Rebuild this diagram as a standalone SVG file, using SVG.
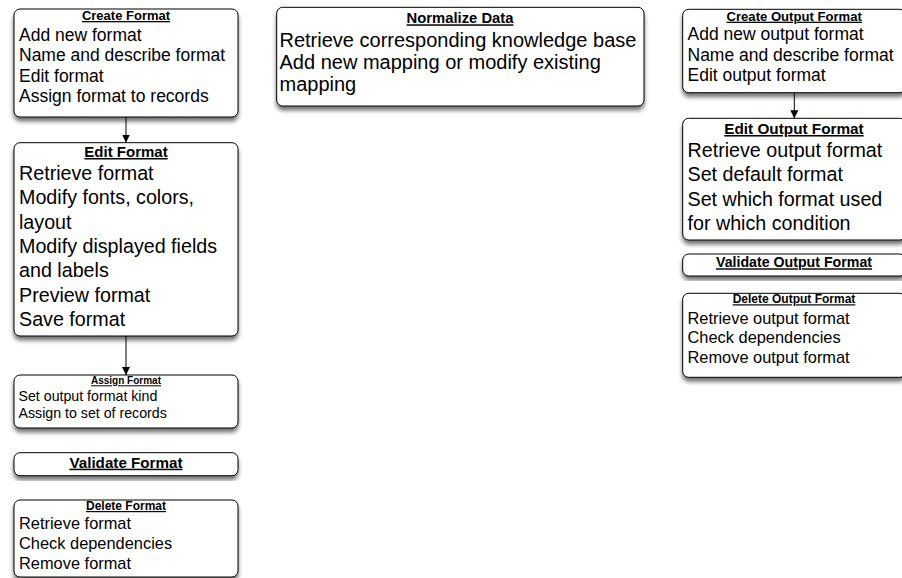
<svg xmlns="http://www.w3.org/2000/svg" width="902" height="578" viewBox="0 0 902 578">
<style>
.box{fill:#fff;stroke:#000;stroke-width:1;filter:url(#sh)}
text{font-family:"Liberation Sans",Arial,Helvetica,sans-serif;fill:#000}
.t{font-weight:bold;text-anchor:middle;text-decoration:underline}
.c{stroke:#000;stroke-width:1;fill:none;marker-end:url(#ah)}
</style>
<defs>
<filter id="sh" x="-10%" y="-10%" width="120%" height="130%">
<feGaussianBlur in="SourceAlpha" stdDeviation="2"/>
<feOffset dx="0" dy="4" result="b"/>
<feComponentTransfer><feFuncA type="linear" slope="0.55"/></feComponentTransfer>
<feMerge><feMergeNode/><feMergeNode in="SourceGraphic"/></feMerge>
</filter>
<marker id="ah" viewBox="0 0 10 10" refX="10" refY="5" markerWidth="8" markerHeight="8" markerUnits="userSpaceOnUse" orient="auto">
<path d="M0,0 L10,5 L0,10 z" fill="#000"/>
</marker>
</defs>
<rect width="902" height="578" fill="#fff"/>
<g id="connectors">
<line class="c" x1="126" y1="117" x2="126" y2="142.5"/>
<line class="c" x1="126" y1="336" x2="126" y2="375"/>
<line class="c" x1="794.3" y1="92.7" x2="794.3" y2="118.3"/>
</g>
<g id="create-format">
<rect class="box" x="14" y="9" width="224" height="108" rx="6"/>
<text class="t" x="126" y="20" font-size="13">Create Format</text>
<text font-size="17.5"><tspan x="19" y="40.5">Add new format</tspan><tspan x="19" y="61">Name and describe format</tspan><tspan x="19" y="81.5">Edit format</tspan><tspan x="19" y="102">Assign format to records</tspan></text>
</g>
<g id="edit-format">
<rect class="box" x="14" y="142.7" width="224" height="193.3" rx="6"/>
<text class="t" x="126" y="157" font-size="15">Edit Format</text>
<text font-size="19.7"><tspan x="19" y="180">Retrieve format</tspan><tspan x="19" y="204.3">Modify fonts, colors,</tspan><tspan x="19" y="228.6">layout</tspan><tspan x="19" y="252.9">Modify displayed fields</tspan><tspan x="19" y="277.2">and labels</tspan><tspan x="19" y="301.5">Preview format</tspan><tspan x="19" y="325.8">Save format</tspan></text>
</g>
<g id="assign-format">
<rect class="box" x="14" y="375" width="224" height="53" rx="6"/>
<text class="t" x="126" y="384.3" font-size="10">Assign Format</text>
<text font-size="14.2"><tspan x="18.5" y="401">Set output format kind</tspan><tspan x="18.5" y="417.7">Assign to set of records</tspan></text>
</g>
<g id="validate-format">
<rect class="box" x="14" y="452.7" width="224" height="23" rx="6"/>
<text class="t" x="126" y="467.7" font-size="15.2">Validate Format</text>
</g>
<g id="delete-format">
<rect class="box" x="14" y="500" width="224" height="77" rx="6"/>
<text class="t" x="126" y="510" font-size="12">Delete Format</text>
<text font-size="16.4"><tspan x="19" y="529.3">Retrieve format</tspan><tspan x="19" y="549.3">Check dependencies</tspan><tspan x="19" y="569.3">Remove format</tspan></text>
</g>
<g id="normalize-data">
<rect class="box" x="276.7" y="7.3" width="367.3" height="98.7" rx="6"/>
<text class="t" x="460" y="23.3" font-size="14.8">Normalize Data</text>
<text font-size="20"><tspan x="279.5" y="46.5">Retrieve corresponding knowledge base</tspan><tspan x="279.5" y="68.5">Add new mapping or modify existing</tspan><tspan x="279.5" y="90.5">mapping</tspan></text>
</g>
<g id="create-output-format">
<rect class="box" x="682.7" y="9.3" width="223" height="83.4" rx="6"/>
<text class="t" x="794.2" y="20.7" font-size="13.1">Create Output Format</text>
<text font-size="17.5"><tspan x="687.5" y="40">Add new output format</tspan><tspan x="687.5" y="60.5">Name and describe format</tspan><tspan x="687.5" y="81">Edit output format</tspan></text>
</g>
<g id="edit-output-format">
<rect class="box" x="682.7" y="118.3" width="223" height="121.7" rx="6"/>
<text class="t" x="794" y="134" font-size="15.3">Edit Output Format</text>
<text font-size="19.7"><tspan x="687.5" y="156.7">Retrieve output format</tspan><tspan x="687.5" y="181">Set default format</tspan><tspan x="687.5" y="205.5">Set which format used</tspan><tspan x="687.5" y="230">for which condition</tspan></text>
</g>
<g id="validate-output-format">
<rect class="box" x="682.7" y="254" width="223" height="22" rx="6"/>
<text class="t" x="794" y="267.3" font-size="14.2">Validate Output Format</text>
</g>
<g id="delete-output-format">
<rect class="box" x="682.7" y="293.3" width="223" height="84" rx="6"/>
<text class="t" x="794" y="303.3" font-size="12">Delete Output Format</text>
<text font-size="16.4"><tspan x="687.5" y="324">Retrieve output format</tspan><tspan x="687.5" y="343.3">Check dependencies</tspan><tspan x="687.5" y="362.6">Remove output format</tspan></text>
</g>
</svg>
